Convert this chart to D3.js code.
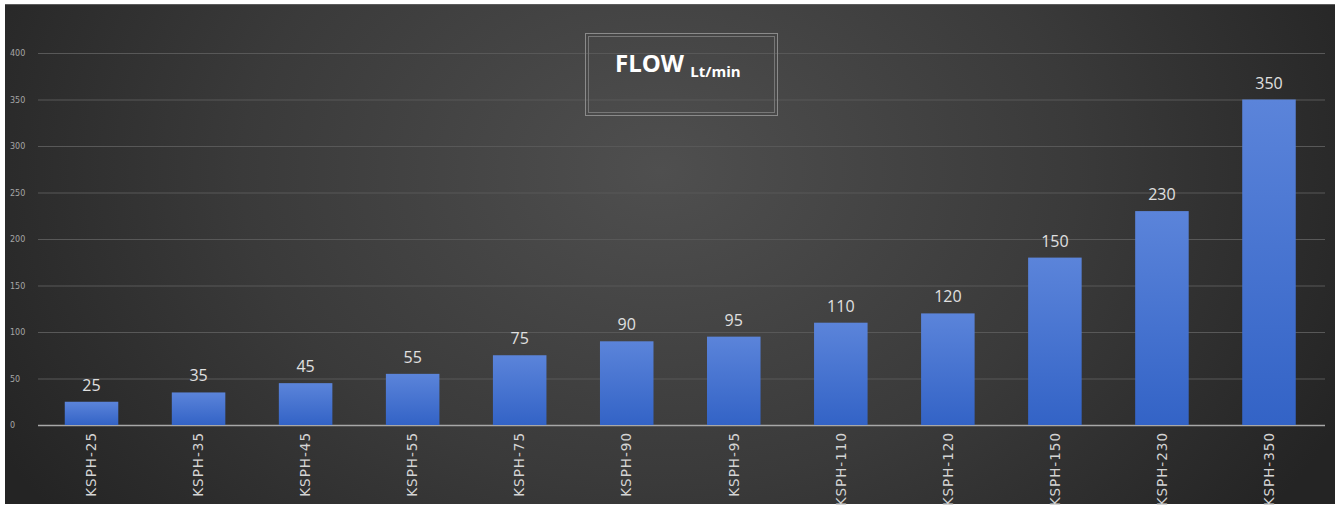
<!DOCTYPE html>
<html>
<head>
<meta charset="utf-8">
<script src="https://cdn.jsdelivr.net/npm/d3@7"></script>
<style>
  html, body { margin: 0; padding: 0; background: #fff; }
  svg { display: block; }
</style>
</head>
<body>
<div id="canvas"></div>
<script>
// data
var models = ['KSPH-25','KSPH-35','KSPH-45','KSPH-55','KSPH-75','KSPH-90','KSPH-95','KSPH-110','KSPH-120','KSPH-150','KSPH-230','KSPH-350'];
// bar heights as drawn (the KSPH-150 bar is drawn taller than its label)
var barValues = [25, 35, 45, 55, 75, 90, 95, 110, 120, 180, 230, 350];
var barLabels = ['25','35','45','55','75','90','95','110','120','150','230','350'];
var yTicks = [0, 50, 100, 150, 200, 250, 300, 350, 400];

var W = 1335, H = 506;
var m = {t:53, r:13, b:81, l:38};
var w = W - m.l - m.r,
    h = 425 - m.t;

var svg = d3.select('#canvas').append('svg')
    .attr('width', W)
    .attr('height', H);

var defs = svg.append('defs');
var bg = defs.append('radialGradient')
    .attr('id','bg')
    .attr('gradientUnits','userSpaceOnUse')
    .attr('cx', 660).attr('cy', 170).attr('r', 760)
    .attr('gradientTransform','translate(660,170) scale(1,0.75) translate(-660,-170)');
bg.append('stop').attr('offset','0%').attr('stop-color','#4f4f4f');
bg.append('stop').attr('offset','55%').attr('stop-color','#3a3a3a');
bg.append('stop').attr('offset','100%').attr('stop-color','#242424');

var barGrad = defs.append('linearGradient')
    .attr('id','bar').attr('x1',0).attr('y1',0).attr('x2',0).attr('y2',1);
barGrad.append('stop').attr('offset','0%').attr('stop-color','#5b84da');
barGrad.append('stop').attr('offset','100%').attr('stop-color','#3363c6');

// background panel
svg.append('rect')
    .attr('x', 5).attr('y', 4)
    .attr('width', W - 5).attr('height', 500)
    .attr('fill', 'url(#bg)');
svg.append('line')
    .attr('x1', 5).attr('x2', W).attr('y1', 4.5).attr('y2', 4.5)
    .attr('stroke', '#5c5c5c');

var plot = svg.append('g')
    .attr('transform','translate(' + m.l + ',' + m.t + ')');

var x = d3.scaleBand()
    .domain(models)
    .range([0, 1284.5])
    .paddingInner(0.5)
    .paddingOuter(0.25);

var y = d3.scaleLinear()
    .domain([0, 400])
    .range([h, 0]);

// grid + y labels
var axisY = d3.axisLeft(y)
    .tickValues(yTicks)
    .tickSize(-1287)
    .tickPadding(10);

var gy = plot.append('g')
    .attr('class','axis axis-y')
    .call(axisY);
gy.select('.domain').remove();
gy.selectAll('.tick line')
    .attr('stroke', function(d){ return d === 0 ? '#a8a8a8' : '#585858'; })
    .attr('stroke-width', function(d){ return d === 0 ? 1.5 : 1; });
gy.selectAll('.tick text')
    .attr('fill', '#a6a6a6')
    .attr('font-family', 'DejaVu Sans, sans-serif')
    .attr('font-size', 8)
    .attr('text-anchor', 'start')
    .attr('x', -28);

// bars
plot.selectAll('rect.bar')
    .data(barValues)
    .enter()
    .append('rect')
    .attr('class','bar')
    .attr('x', function(d,i){ return x(models[i]); })
    .attr('y', function(d){ return y(d); })
    .attr('width', x.bandwidth())
    .attr('height', function(d){ return h - y(d); })
    .attr('fill', 'url(#bar)');

// value labels
plot.selectAll('text.val')
    .data(barValues)
    .enter()
    .append('text')
    .attr('class','val')
    .attr('x', function(d,i){ return x(models[i]) + x.bandwidth()/2; })
    .attr('y', function(d){ return y(d) - 11; })
    .attr('text-anchor','middle')
    .attr('fill', '#e0e0e0')
    .attr('font-family', 'Open Sans, sans-serif')
    .attr('font-size', 16)
    .text(function(d,i){ return barLabels[i]; });

// x labels
var axisX = d3.axisBottom(x).tickSize(0).tickPadding(0);
var gx = plot.append('g')
    .attr('class','axis axis-x')
    .attr('transform','translate(0,' + h + ')')
    .call(axisX);
gx.select('.domain').remove();
gx.selectAll('.tick text')
    .attr('fill', '#d4d4d4')
    .attr('font-family', 'DejaVu Sans, sans-serif')
    .attr('font-size', 13.5)
    .attr('letter-spacing', 1)
    .attr('transform', 'rotate(-90)')
    .attr('text-anchor', 'end')
    .attr('x', -7)
    .attr('y', 0)
    .attr('dy', '0.35em');

// title box
var tb = svg.append('g');
tb.append('rect')
    .attr('x', 585.5).attr('y', 33.5).attr('width', 192).attr('height', 82)
    .attr('fill', 'none').attr('stroke', '#8a8a8a');
tb.append('rect')
    .attr('x', 588.5).attr('y', 36.5).attr('width', 186).attr('height', 76)
    .attr('fill', 'none').attr('stroke', '#777');
var title = tb.append('text')
    .attr('x', 615).attr('y', 72)
    .attr('fill', '#fff')
    .attr('font-family', 'Open Sans, sans-serif')
    .attr('font-weight', 'bold');
title.append('tspan').attr('font-size', 24).text('FLOW ');
title.append('tspan').attr('font-size', 15).attr('dy', 5).text('Lt/min');
</script>
</body>
</html>
